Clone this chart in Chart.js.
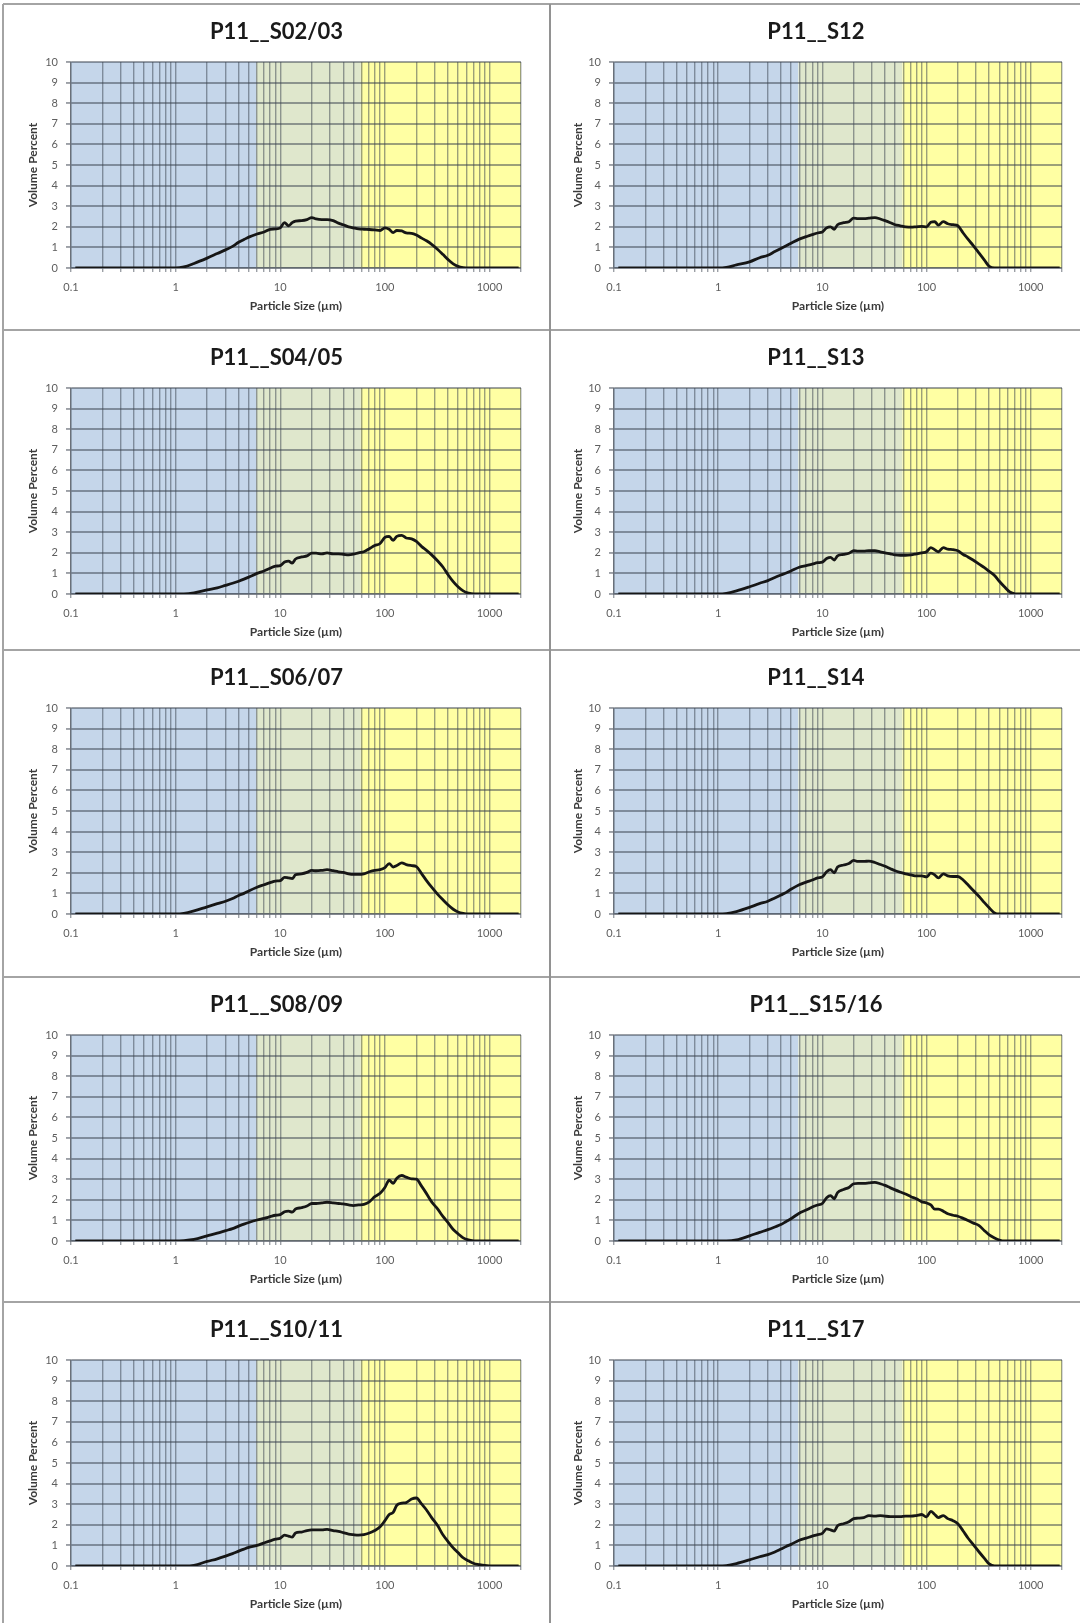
<!DOCTYPE html>
<html><head><meta charset="utf-8">
<script src="https://cdn.jsdelivr.net/npm/chart.js@4/dist/chart.umd.min.js"></script>
<style>
html,body{margin:0;padding:0;background:#fff;}
body{width:1080px;height:1623px;position:relative;overflow:hidden;}
.ln{position:absolute;}
canvas{position:absolute;}
</style></head><body>
<script>
// ---------- DATA ----------
const particleSize = [0.11,0.2,0.5,1.0,
  1.2,1.5,2,2.5,3,3.5,4,4.5,5,
  6,7,8,9,10,
  11,12,13,14,16,18,20,22,25,28,
  32,36,40,45,50,56,63,71,80,90,
  100,110,120,130,145,160,180,200,225,250,
  280,320,360,400,450,500,560,630,710,800,
  900,1000,1200,1500,1900];

const volS02_03 = [0,0,0,0,
  0.05,0.22,0.48,0.7,0.88,1.05,1.25,1.38,1.5,
  1.65,1.75,1.88,1.9,1.95,
  2.2,2.05,2.2,2.28,2.3,2.35,2.45,2.38,2.35,2.35,
  2.3,2.18,2.1,2.0,1.95,1.9,1.88,1.87,1.85,1.82,
  1.95,1.88,1.72,1.82,1.8,1.7,1.68,1.6,1.45,1.32,
  1.15,0.9,0.65,0.42,0.2,0.08,0.02,0,0,0,
  0,0,0,0,0];
const volS04_05 = [0,0,0,0,
  0,0.05,0.2,0.3,0.42,0.52,0.62,0.72,0.82,
  1.0,1.12,1.25,1.35,1.38,
  1.55,1.6,1.5,1.7,1.8,1.85,1.98,1.98,1.95,2.0,
  1.95,1.95,1.93,1.9,1.93,2.0,2.05,2.2,2.35,2.45,
  2.75,2.8,2.6,2.8,2.85,2.72,2.68,2.55,2.3,2.12,
  1.9,1.6,1.3,0.95,0.6,0.35,0.15,0.04,0,0,
  0,0,0,0,0];
const volS06_07 = [0,0,0,0,
  0.03,0.15,0.35,0.5,0.62,0.75,0.9,1.0,1.12,
  1.3,1.42,1.52,1.6,1.62,
  1.78,1.75,1.72,1.9,1.95,2.02,2.12,2.1,2.12,2.15,
  2.1,2.05,2.02,1.95,1.92,1.92,1.95,2.05,2.12,2.15,
  2.25,2.45,2.28,2.35,2.48,2.4,2.35,2.3,1.95,1.62,
  1.3,0.95,0.68,0.45,0.23,0.1,0.03,0,0,0,
  0,0,0,0,0];
const volS08_09 = [0,0,0,0,
  0.02,0.08,0.25,0.38,0.5,0.6,0.72,0.82,0.9,
  1.02,1.1,1.18,1.25,1.28,
  1.42,1.45,1.4,1.55,1.62,1.7,1.82,1.82,1.85,1.88,
  1.85,1.82,1.8,1.75,1.72,1.75,1.78,1.9,2.15,2.32,
  2.6,2.95,2.8,3.05,3.18,3.1,3.02,3.0,2.65,2.3,
  1.9,1.55,1.18,0.9,0.56,0.35,0.15,0.05,0.01,0,
  0,0,0,0,0];
const volS10_11 = [0,0,0,0,
  0,0.03,0.22,0.35,0.48,0.6,0.72,0.82,0.9,
  1.0,1.12,1.22,1.3,1.35,
  1.5,1.45,1.4,1.6,1.65,1.72,1.75,1.75,1.75,1.78,
  1.72,1.68,1.62,1.55,1.52,1.5,1.52,1.6,1.72,1.9,
  2.2,2.5,2.6,2.95,3.05,3.08,3.25,3.3,3.0,2.72,
  2.35,1.95,1.5,1.2,0.88,0.65,0.4,0.25,0.12,0.07,
  0.03,0.01,0,0,0];
const volS12 = [0,0,0,0,
  0.03,0.15,0.3,0.5,0.62,0.8,0.95,1.08,1.2,
  1.4,1.52,1.62,1.7,1.75,
  1.95,2.0,1.88,2.1,2.2,2.25,2.42,2.4,2.4,2.42,
  2.45,2.38,2.3,2.2,2.1,2.05,2.0,1.98,2.0,2.02,
  2.0,2.22,2.25,2.08,2.25,2.15,2.1,2.05,1.7,1.4,
  1.1,0.72,0.38,0.08,0,0,0,0,0,0,
  0,0,0,0,0];
const volS13 = [0,0,0,0,
  0.03,0.15,0.35,0.52,0.65,0.8,0.92,1.02,1.12,
  1.3,1.38,1.45,1.52,1.55,
  1.72,1.78,1.65,1.85,1.92,1.98,2.1,2.08,2.08,2.1,
  2.1,2.05,2.0,1.95,1.9,1.88,1.88,1.9,1.95,2.0,
  2.05,2.25,2.15,2.05,2.25,2.18,2.15,2.1,1.92,1.8,
  1.65,1.45,1.28,1.1,0.9,0.62,0.35,0.1,0.01,0,
  0,0,0,0,0];
const volS14 = [0,0,0,0,
  0.02,0.12,0.32,0.5,0.62,0.78,0.92,1.05,1.2,
  1.42,1.55,1.65,1.75,1.8,
  2.05,2.15,2.0,2.28,2.38,2.45,2.6,2.55,2.55,2.57,
  2.5,2.4,2.32,2.2,2.1,2.02,1.95,1.9,1.85,1.85,
  1.8,1.98,1.9,1.75,1.95,1.85,1.82,1.82,1.65,1.42,
  1.15,0.85,0.55,0.3,0.05,0,0,0,0,0,
  0,0,0,0,0];
const volS15_16 = [0,0,0,0,
  0,0.05,0.25,0.42,0.55,0.68,0.8,0.95,1.08,
  1.35,1.5,1.65,1.75,1.82,
  2.1,2.2,2.05,2.35,2.5,2.6,2.78,2.8,2.8,2.82,
  2.85,2.78,2.7,2.58,2.48,2.38,2.28,2.15,2.05,1.9,
  1.85,1.75,1.55,1.55,1.45,1.32,1.25,1.2,1.1,1.0,
  0.88,0.75,0.5,0.3,0.15,0.05,0,0,0,0,
  0,0,0,0,0];
const volS17 = [0,0,0,0,
  0.02,0.12,0.3,0.45,0.55,0.68,0.82,0.95,1.05,
  1.25,1.35,1.45,1.52,1.58,
  1.8,1.75,1.7,1.95,2.05,2.15,2.3,2.32,2.35,2.45,
  2.42,2.45,2.42,2.4,2.4,2.4,2.42,2.42,2.45,2.5,
  2.38,2.65,2.5,2.35,2.45,2.3,2.2,2.05,1.7,1.36,
  1.05,0.68,0.37,0.1,0,0,0,0,0,0,
  0,0,0,0,0];

const panelTitles = ['P11__S02/03','P11__S04/05','P11__S06/07','P11__S08/09','P11__S10/11',
                     'P11__S12','P11__S13','P11__S14','P11__S15/16','P11__S17'];
const panelSeries = [volS02_03, volS04_05, volS06_07, volS08_09, volS10_11,
                     volS12, volS13, volS14, volS15_16, volS17];

const xMajorValues = [0.1, 1, 10, 100, 1000];
const xTickLabels = ['0.1', '1', '10', '100', '1000'];
const xMin = 0.1, xMax = 2000;
const yMin = 0, yMax = 10, yStep = 1;
const xAxisTitle = 'Particle Size (\u00b5m)';
const yAxisTitle = 'Volume Percent';

// size classes shaded behind the curves
const bandEdges = [0.1, 5.9, 59, 2000];
const bandColors = ['#c5d6ea', '#dfe7cc', '#ffffa3'];

// ---------- LAYOUT ----------
const cols = [
  {x: 5,   w: 543, plotL: 66, plotR: 516, yTitlePad: 22.6},
  {x: 552, w: 528, plotL: 62, plotR: 510, yTitlePad: 20}
];
const rowTops = [4, 330, 650, 977, 1302, 1623];

function line(x, y, w, h, color){
  const d = document.createElement('div');
  d.className = 'ln';
  d.style.cssText = `left:${x}px;top:${y}px;width:${w}px;height:${h}px;background:${color}`;
  document.body.appendChild(d);
}
for (let r = 0; r < 5; r++) line(3, rowTops[r] - 0.75, 1077, 1.5, '#a4a4a4');
line(2.25, 4, 1.5, 1619, '#a4a4a4');
line(549, 4, 2, 1619, '#929292');

const xGridValues = [];
xMajorValues.forEach(d => {
  for (let m = 1; m <= 9; m++) {
    const v = +(d * m).toPrecision(6);
    if (v <= xMax) xGridValues.push(v);
  }
});
if (xGridValues[xGridValues.length - 1] !== xMax) xGridValues.push(xMax);

const bandPlugin = {
  id: 'bands',
  beforeDraw(chart) {
    const {ctx, chartArea: {top, bottom}, scales: {x}} = chart;
    ctx.save();
    for (let i = 0; i < bandColors.length; i++) {
      const x0 = x.getPixelForValue(bandEdges[i]);
      const x1 = x.getPixelForValue(bandEdges[i + 1]);
      ctx.fillStyle = bandColors[i];
      ctx.fillRect(x0, top, x1 - x0, bottom - top);
    }
    ctx.restore();
  }
};

const PLOT_TOP = 57, PLOT_H = 206, XAXIS_H = 50;
const GRID = 'rgba(58,66,78,0.5)';

panelTitles.forEach((title, idx) => {
  const c = cols[idx < 5 ? 0 : 1];
  const r = idx % 5;
  const top = rowTops[r] + 1;
  const h = rowTops[r + 1] - rowTops[r] - 2;
  const cv = document.createElement('canvas');
  cv.width = c.w; cv.height = h;
  cv.style.left = c.x + 'px'; cv.style.top = top + 'px';
  document.body.appendChild(cv);

  const series = panelSeries[idx];
  const pts = particleSize.map((x, i) => ({x: x, y: series[i]}));

  new Chart(cv, {
    type: 'line',
    data: { datasets: [{
      data: pts,
      borderColor: '#161616',
      borderWidth: 2.8,
      pointRadius: 0,
      cubicInterpolationMode: 'monotone',
      fill: false
    }]},
    plugins: [bandPlugin],
    options: {
      responsive: false,
      animation: false,
      devicePixelRatio: 1,
      layout: { padding: { left: 0, top: 0, right: 0, bottom: h - PLOT_TOP - PLOT_H - XAXIS_H } },
      plugins: {
        legend: { display: false },
        tooltip: { enabled: false },
        title: {
          display: true, text: title, color: '#1a1a1a',
          font: { family: 'Lato', size: 22, weight: 'bold', lineHeight: 1.2 },
          padding: { top: 13.8, bottom: 16.8 }
        }
      },
      scales: {
        x: {
          type: 'logarithmic', min: xMin, max: xMax,
          afterBuildTicks: s => { s.ticks = xGridValues.map(v => ({value: v})); },
          afterFit: s => { s.height = XAXIS_H; },
          grid: { color: GRID, lineWidth: 1.4, drawTicks: true, tickLength: 4 },
          border: { color: GRID, width: 1.4 },
          ticks: {
            autoSkip: false, maxRotation: 0, minRotation: 0, padding: 9,
            color: '#5e5e5e', font: { family: 'Lato', size: 11 },
            callback: v => { const i = xMajorValues.indexOf(v); return i >= 0 ? xTickLabels[i] : ''; }
          },
          title: {
            display: true, text: xAxisTitle, color: '#3a3a3a',
            font: { family: 'Lato', size: 12, weight: 'bold', lineHeight: 1.2 },
            padding: { top: 0, bottom: 5 }
          }
        },
        y: {
          min: yMin, max: yMax,
          afterFit: s => { s.width = c.plotL; },
          grid: { color: GRID, lineWidth: 1.9, tickLength: 5 },
          border: { color: GRID, width: 1.4 },
          ticks: { stepSize: yStep, padding: 8, color: '#5e5e5e', font: { family: 'Lato', size: 11 } },
          title: {
            display: true, text: yAxisTitle, color: '#3a3a3a',
            font: { family: 'Lato', size: 12, weight: 'bold', lineHeight: 1.2 },
            padding: { top: c.yTitlePad - 1.2, bottom: 0 }
          }
        },
        yRight: {
          position: 'right', display: true, min: yMin, max: yMax,
          afterFit: s => { s.width = c.w - c.plotR; },
          grid: { display: false, drawTicks: false },
          border: { display: false },
          ticks: { display: false },
          title: { display: false }
        }
      }
    }
  });
});
</script>
</body></html>
